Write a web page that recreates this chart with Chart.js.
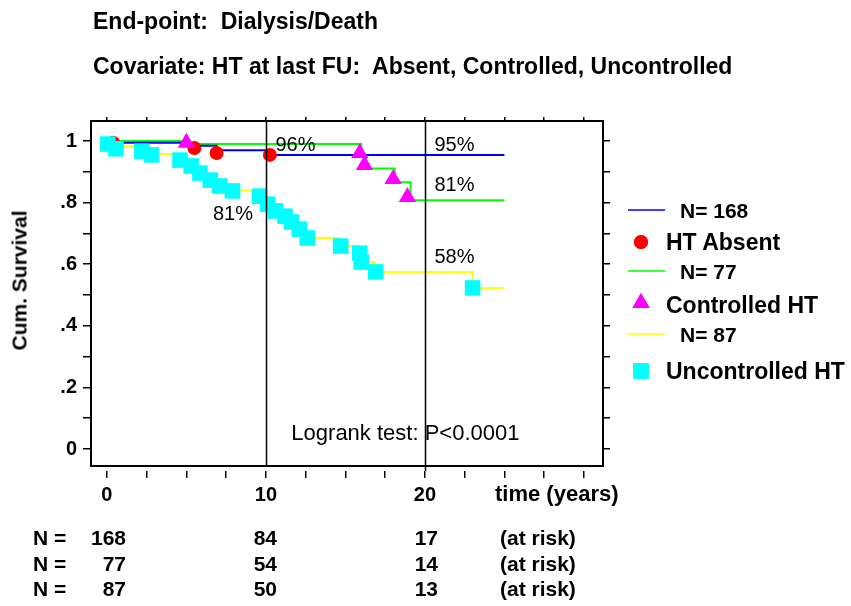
<!DOCTYPE html>
<html>
<head>
<meta charset="utf-8">
<script src="https://cdn.jsdelivr.net/npm/chart.js@4.4.1/dist/chart.umd.min.js"></script>
<style>
body { margin: 0; background: #fff; }
#wrap { position: relative; width: 851px; height: 606px; overflow: hidden; font-family: "Liberation Sans", Arial, sans-serif; color: #000; }
#km { position: absolute; left: 0; top: 0; }
.t { position: absolute; white-space: pre; font-weight: bold; }
</style>
</head>
<body>
<div id="wrap">
<canvas id="km" width="851" height="606"></canvas>
<div id="labels"></div>
</div>
<script>
// Kaplan-Meier steps (time in years, cum. survival)
const absentT = [0, 0.4, 5.4, 6.9, 10.2, 25];
const absentS = [1.0, 0.994, 0.985, 0.97, 0.955, 0.955];
const controlledT = [0, 5.0, 16.0, 16.3, 18.1, 19.1, 25];
const controlledS = [1.0, 0.99, 0.95, 0.911, 0.866, 0.808, 0.808];
const uncontrolledT = [0, 0.5, 2.7, 4.5, 5.2, 5.8, 6.4, 7.0, 7.8, 9.5, 10.0, 10.5, 11.1, 11.5, 12.0, 12.5, 14.6, 15.8, 16.0, 16.8, 23.0, 25];
const uncontrolledS = [1.0, 0.982, 0.958, 0.938, 0.919, 0.896, 0.873, 0.854, 0.839, 0.821, 0.795, 0.773, 0.756, 0.737, 0.714, 0.685, 0.659, 0.636, 0.607, 0.575, 0.523, 0.523];

// markers
const absentMarkT = [0.4, 5.5, 6.9, 10.25];
const absentMarkS = [0.994, 0.977, 0.961, 0.955];
const controlledMarkT = [5.0, 15.9, 16.2, 18.0, 18.9];
const controlledMarkS = [0.994, 0.961, 0.922, 0.877, 0.818];
const uncontrolledMarkT = [0.06, 0.57, 2.2, 2.8, 4.6, 5.3, 5.85, 6.5, 7.1, 7.9, 9.6, 10.1, 10.6, 11.2, 11.6, 12.1, 12.6, 14.7, 15.9, 16.0, 16.9, 23.0];
const uncontrolledMarkS = [0.99, 0.975, 0.967, 0.955, 0.938, 0.919, 0.896, 0.873, 0.854, 0.838, 0.821, 0.795, 0.773, 0.756, 0.737, 0.714, 0.685, 0.659, 0.636, 0.607, 0.575, 0.523];

const xTicks = [0, 2.5, 5, 7.5, 10, 12.5, 15, 17.5, 20, 22.5, 25, 27.5, 30];
const xTickLabels = ['0', '', '', '', '10', '', '', '', '20', '', '', '', ''];
const yTicks = [0, 0.1, 0.2, 0.3, 0.4, 0.5, 0.6, 0.7, 0.8, 0.9, 1];
const yTickLabels = ['0', '', '.2', '', '.4', '', '.6', '', '.8', '', '1'];
const refLines = [10, 20];

const groupNames = ['HT Absent', 'Controlled HT', 'Uncontrolled HT'];
const groupN = [168, 77, 87];
const atRiskAbsent = [168, 84, 17];
const atRiskControlled = [77, 54, 14];
const atRiskUncontrolled = [87, 50, 13];

const pctLabels = [
    [10.6, 0.984, '96%'], [20.6, 0.984, '95%'], [20.6, 0.857, '81%'],
    [6.67, 0.763, '81%'], [20.6, 0.623, '58%']
];

function pts(T, S) { return T.map((t, i) => ({ x: t, y: S[i] })); }

const FONT = '"Liberation Sans", Arial, sans-serif';
const BLUE = '#0000ff', GREEN = '#00ff00', YELLOW = '#ffff00';
const RED = '#ff0000', MAGENTA = '#ff00ff', CYAN = '#00ffff';

const decor = {
    id: 'decor',
    afterDatasetsDraw(chart) {
        const ctx = chart.ctx, a = chart.chartArea, x = chart.scales.x, y = chart.scales.y;
        ctx.save();
        ctx.strokeStyle = '#000';
        ctx.lineWidth = 1.5;
        // vertical reference lines
        refLines.forEach((t, i) => {
            const px = Math.round(x.getPixelForValue(t)) + 0.5;
            ctx.beginPath();
            ctx.moveTo(px, a.top);
            ctx.lineTo(px, i === 1 ? a.bottom : a.bottom - 5);
            ctx.stroke();
        });
        // frame
        ctx.lineWidth = 2;
        ctx.strokeRect(a.left, a.top, a.right - a.left, a.bottom - 5 - a.top);
        // in-plot labels
        ctx.fillStyle = '#000';
        ctx.textBaseline = 'middle';
        ctx.font = '20px ' + FONT;
        pctLabels.forEach(p => ctx.fillText(p[2], x.getPixelForValue(p[0]), y.getPixelForValue(p[1])));
        ctx.font = '22px ' + FONT;
        ctx.fillText('Logrank test: P<0.0001', x.getPixelForValue(11.6), y.getPixelForValue(0.049));
        // legend swatches
        const lx0 = 628, lx1 = 665, mx = 641;
        [[BLUE, 210], [GREEN, 271], [YELLOW, 334]].forEach(l => {
            ctx.strokeStyle = l[0];
            ctx.lineWidth = 1.5;
            ctx.beginPath(); ctx.moveTo(lx0, l[1]); ctx.lineTo(lx1, l[1]); ctx.stroke();
        });
        const ps = [['circle', RED, 7, 242], ['triangle', MAGENTA, 10, 303], ['rect', CYAN, 11, 371]];
        ps.forEach(p => {
            ctx.fillStyle = p[1]; ctx.strokeStyle = p[1];
            Chart.helpers.drawPoint(ctx, { pointStyle: p[0], radius: p[2], borderWidth: 0, rotation: 0 }, mx, p[3]);
            ctx.fill();
        });
        ctx.restore();
    }
};

const lineDs = (label, T, S, color) => ({
    label: label, data: pts(T, S), showLine: true, stepped: true,
    borderColor: color, borderWidth: 2, pointRadius: 0, order: 5
});
const markDs = (label, T, S, style, color, r, order) => ({
    label: label, data: pts(T, S), showLine: false,
    pointStyle: style, pointRadius: r, pointBackgroundColor: color,
    pointBorderColor: color, pointBorderWidth: 0, order: order
});
const tickGrid = len => ({ drawOnChartArea: false, drawTicks: true, tickLength: len, color: '#000', lineWidth: 1.5 });

new Chart(document.getElementById('km'), {
    type: 'scatter',
    data: {
        datasets: [
            lineDs('N= 168', absentT, absentS, BLUE),
            lineDs('N= 77', controlledT, controlledS, GREEN),
            lineDs('N= 87', uncontrolledT, uncontrolledS, YELLOW),
            markDs('HT Absent', absentMarkT, absentMarkS, 'circle', RED, 7, 3),
            markDs('Controlled HT', controlledMarkT, controlledMarkS, 'triangle', MAGENTA, 10, 2),
            markDs('Uncontrolled HT', uncontrolledMarkT, uncontrolledMarkS, 'rect', CYAN, 11, 1)
        ]
    },
    options: {
        responsive: false,
        animation: false,
        devicePixelRatio: 1,
        layout: { padding: { left: 0, top: 117, right: 240, bottom: 95 } },
        plugins: { legend: { display: false }, tooltip: { enabled: false } },
        scales: {
            x: {
                type: 'linear', min: -1, max: 31.2,
                afterFit: s => { s.height = 40; },
                afterBuildTicks: s => { s.ticks = xTicks.map(v => ({ value: v })); },
                ticks: {
                    autoSkip: false, maxRotation: 0, padding: 5, color: '#000',
                    font: { size: 20, weight: 'bold', family: FONT },
                    callback: (v, i) => xTickLabels[i]
                },
                grid: tickGrid(7),
                border: { display: false }
            },
            x2: {
                type: 'linear', position: 'top', min: -1, max: 31.2,
                afterFit: s => { s.height = 4; },
                afterBuildTicks: s => { s.ticks = xTicks.map(v => ({ value: v })); },
                ticks: { display: false },
                grid: tickGrid(4),
                border: { display: false }
            },
            y: {
                type: 'linear', min: -0.0714, max: 1.065,
                afterFit: s => { s.width = 91; },
                afterBuildTicks: s => { s.ticks = yTicks.map(v => ({ value: v })); },
                ticks: {
                    autoSkip: false, padding: 6, color: '#000',
                    font: { size: 20, weight: 'bold', family: FONT },
                    callback: (v, i) => yTickLabels[i]
                },
                grid: tickGrid(8),
                border: { display: false }
            },
            y2: {
                type: 'linear', position: 'right', min: -0.0714, max: 1.065,
                afterFit: s => { s.width = 8; },
                afterBuildTicks: s => { s.ticks = yTicks.map(v => ({ value: v })); },
                ticks: { display: false },
                grid: tickGrid(7),
                border: { display: false }
            }
        }
    },
    plugins: [decor]
});

// html text, placed by the centre of the capital letters
function txt(s, left, cy, fs, extra) {
    return '<div class="t" style="left:' + left + 'px;top:' + (cy - 0.49 * fs) + 'px;font-size:' + fs +
        'px;line-height:' + fs + 'px;' + (extra || '') + '">' + s + '</div>';
}
let html = '';
html += txt('End-point:  Dialysis/Death', 93, 21, 23);
html += txt('Covariate: HT at last FU:  Absent, Controlled, Uncontrolled', 93, 66, 23);
html += txt('Cum. Survival', -56, 280, 21, 'width:150px;text-align:center;transform:rotate(-90deg)');
html += txt('time (years)', 495, 494, 22);

// legend text
const legendRows = [
    ['N= ' + groupN[0], 680, 210, 21], [groupNames[0], 666, 242, 23],
    ['N= ' + groupN[1], 680, 271, 21], [groupNames[1], 666, 305, 23],
    ['N= ' + groupN[2], 680, 334, 21], [groupNames[2], 666, 371, 23]
];
legendRows.forEach(r => { html += txt(r[0], r[1], r[2], r[3]); });

// numbers at risk
const riskRows = [atRiskAbsent, atRiskControlled, atRiskUncontrolled];
const riskY = [537, 563, 588];
const colRight = [126, 277, 438];
riskRows.forEach((row, j) => {
    html += txt('N =', 33, riskY[j], 21);
    row.forEach((n, i) => {
        html += txt(String(n), colRight[i] - 60, riskY[j], 21, 'width:60px;text-align:right');
    });
    html += txt('(at risk)', 500, riskY[j], 21);
});
document.getElementById('labels').innerHTML = html;
</script>
</body>
</html>
